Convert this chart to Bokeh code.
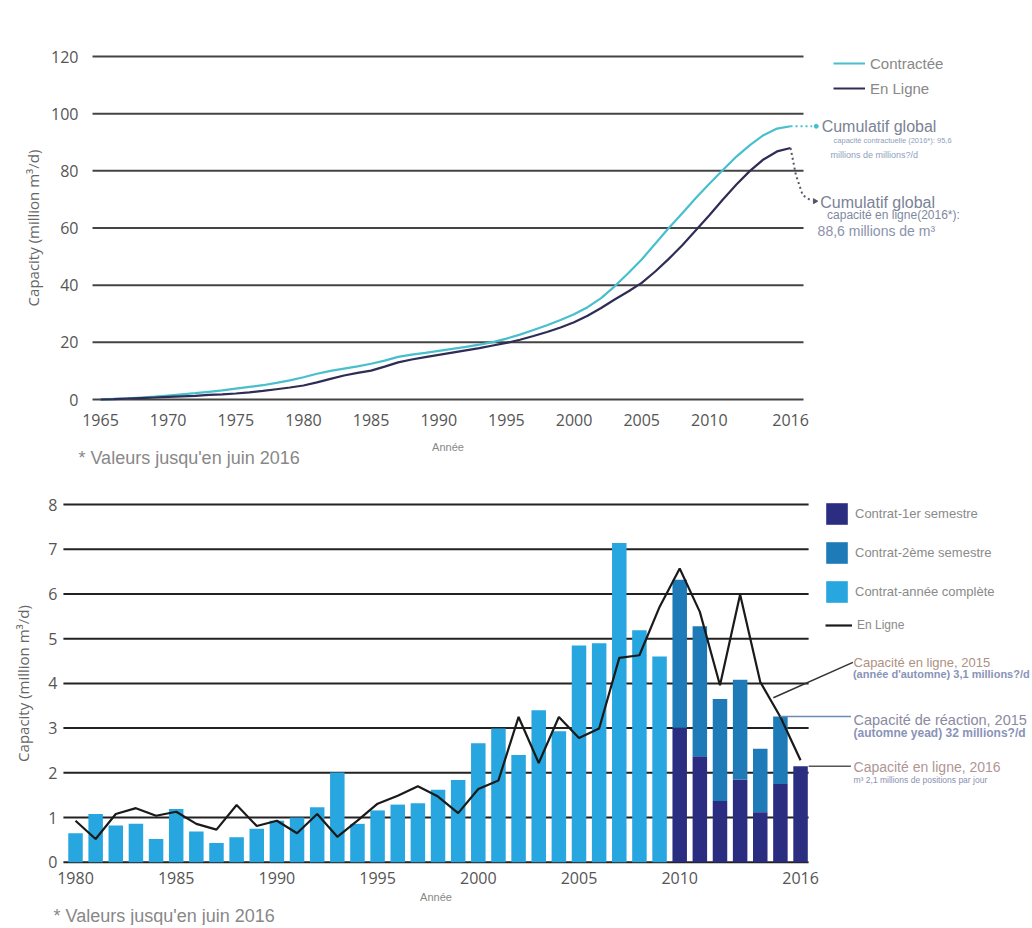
from bokeh.plotting import figure
from bokeh.models import Range1d, FixedTicker, Label, Legend, LegendItem, ColumnDataSource
from bokeh.layouts import column
from bokeh.embed import file_html
from bokeh.resources import INLINE

# ---------------- data: cumulative capacity (top) ----------------
years_top = list(range(1965, 2017))
contractee = [0.0, 0.2, 0.4, 0.7, 1.0, 1.4, 1.8, 2.2, 2.7, 3.2,
              3.8, 4.4, 5.0, 5.8, 6.7, 7.8, 9.0, 10.0, 10.8, 11.6,
              12.5, 13.6, 14.9, 15.7, 16.3, 17.0, 17.7, 18.4, 19.2, 20.1,
              21.3, 22.7, 24.3, 26.0, 27.8, 29.8, 32.3, 35.5, 39.6, 44.2,
              49.0, 54.5, 60.0, 65.2, 70.5, 75.5, 80.3, 85.0, 89.0, 92.5,
              94.8, 95.6]
en_ligne_cum = [0.0, 0.1, 0.3, 0.5, 0.7, 0.9, 1.1, 1.3, 1.6, 1.8,
                2.1, 2.5, 3.0, 3.6, 4.2, 4.9, 6.0, 7.2, 8.4, 9.3,
                10.1, 11.5, 13.0, 14.0, 14.8, 15.6, 16.4, 17.2, 18.0, 18.9,
                19.8, 20.9, 22.2, 23.6, 25.2, 27.0, 29.3, 32.0, 35.0, 37.8,
                40.8, 44.8, 49.2, 54.0, 59.2, 64.5, 70.0, 75.2, 80.0, 84.0,
                86.8, 88.0]
top_y_ticks = [0, 20, 40, 60, 80, 100, 120]
top_x_ticks = [1965, 1970, 1975, 1980, 1985, 1990, 1995, 2000, 2005, 2010, 2016]

# ---------------- data: annual capacity (bottom) ----------------
years_bot = list(range(1980, 2017))
annee_complete = [0.65, 1.08, 0.82, 0.86, 0.52, 1.19, 0.69, 0.43, 0.56, 0.75,
                  0.93, 1.00, 1.23, 2.01, 0.86, 1.16, 1.29, 1.32, 1.62, 1.84,
                  2.66, 2.99, 2.40, 3.40, 2.93, 4.85, 4.90, 7.14, 5.19, 4.60,
                  0, 0, 0, 0, 0, 0, 0]
sem1 = [0] * 30 + [3.01, 2.37, 1.37, 1.85, 1.12, 1.75, 2.15]
sem2 = [0] * 30 + [3.31, 2.91, 2.28, 2.23, 1.42, 1.51, 0.0]
en_ligne_ann = [0.93, 0.52, 1.08, 1.21, 1.04, 1.13, 0.86, 0.73, 1.28, 0.81,
                0.93, 0.65, 1.08, 0.57, 0.93, 1.31, 1.49, 1.70, 1.47, 1.10,
                1.64, 1.83, 3.25, 2.22, 3.25, 2.78, 2.99, 4.57, 4.63, 5.71,
                6.57, 5.60, 3.96, 5.99, 4.03, 3.25, 2.28]
bot_y_ticks = [0, 1, 2, 3, 4, 5, 6, 7, 8]
bot_x_ticks = [1980, 1985, 1990, 1995, 2000, 2005, 2010, 2016]

# ---------------- styles ----------------
NAVY = "#2b2e80"
MID = "#1e7bb8"
LIGHT = "#27a6df"
TEAL = "#48bfcc"
DARK = "#2f2c55"
TICK_FONT = "Open Sans"
NOTE_FONT = "Liberation Sans"


def style_axes(p):
    for ax in p.axis:
        ax.axis_line_color = None
        ax.major_tick_line_color = None
        ax.minor_tick_line_color = None
        ax.major_tick_out = 0
        ax.major_tick_in = 0
        ax.major_label_text_font = TICK_FONT
        ax.major_label_text_font_size = "16px"
        ax.major_label_text_color = "#555555"
        ax.axis_label_text_font = TICK_FONT
        ax.axis_label_text_font_style = "normal"
        ax.axis_label_text_font_size = "15px"
        ax.axis_label_text_color = "#666666"
    p.grid.visible = False
    p.outline_line_color = None
    p.background_fill_color = "white"
    p.border_fill_color = "white"


def add_text(p, x, y, txt, size, col, style="normal", align="left", font=NOTE_FONT):
    p.add_layout(Label(x=x, y=y, text=txt, text_font=font, text_font_size=size,
                       text_font_style=style, text_color=col,
                       text_baseline="middle", text_align=align))


# ================= TOP CHART =================
p1 = figure(width=1032, height=475,
            x_range=Range1d(1957.609, 2033.883), y_range=Range1d(-26.59, 139.61),
            output_backend="svg", toolbar_location=None,
            min_border=0, min_border_left=0, min_border_right=0,
            min_border_top=0, min_border_bottom=0)
style_axes(p1)
gx0, gx1 = 1964.41, 2016.96
p1.xaxis.ticker = FixedTicker(ticks=top_x_ticks)
p1.yaxis.ticker = FixedTicker(ticks=top_y_ticks)
p1.xaxis.fixed_location = -1.05
p1.yaxis.fixed_location = gx0
p1.xaxis.bounds = (gx0, gx1)
p1.yaxis.bounds = (top_y_ticks[0], top_y_ticks[-1])
p1.xaxis.major_label_standoff = 11
p1.yaxis.major_label_standoff = 14
p1.xaxis.axis_label = "Année"
p1.xaxis.axis_label_text_font = NOTE_FONT
p1.xaxis.axis_label_text_font_size = "11px"
p1.xaxis.axis_label_text_color = "#888888"
p1.xaxis.axis_label_standoff = 12
p1.yaxis.axis_label = "Capacity (million m³/d)"
p1.yaxis.axis_label_standoff = 5

p1.segment(x0=[gx0] * len(top_y_ticks), x1=[gx1] * len(top_y_ticks),
           y0=top_y_ticks, y1=top_y_ticks, line_color="#444444", line_width=2)

r_c = p1.line(years_top, contractee, line_color=TEAL, line_width=2.2)
r_e = p1.line(years_top, en_ligne_cum, line_color=DARK, line_width=2.2)

# dotted connectors to the annotations
p1.line([years_top[-1], 2017.6], [contractee[-1], contractee[-1]],
        line_color=TEAL, line_width=2, line_dash="2 3")
p1.scatter([2017.9], [contractee[-1]], marker="circle", size=4, color=TEAL)
p1.line([years_top[-1], 2016.4, 2016.9, 2017.6], [en_ligne_cum[-1], 78.5, 71.5, 69.4],
        line_color="#555566", line_width=2, line_dash="2 3")
p1.scatter([2017.8], [69.4], marker="triangle", angle=-1.5708, size=5, color="#555566")

leg1 = Legend(items=[LegendItem(label="Contractée", renderers=[r_c]),
                     LegendItem(label="En Ligne", renderers=[r_e])],
              location=(833, 377), orientation="vertical",
              glyph_width=32, glyph_height=20, label_height=20, spacing=5,
              padding=0, margin=0, border_line_color=None,
              background_fill_alpha=0,
              label_text_font=NOTE_FONT, label_text_font_size="15px",
              label_text_color="#888888")
p1.add_layout(leg1)

add_text(p1, 2018.3, 95.5, "Cumulatif global", "16px", "#7a8294")
add_text(p1, 2019.18, 90.6, "capacité contractuelle (2016*): 95,6", "7.5px", "#8fa0bc")
add_text(p1, 2018.95, 85.7, "millions de millions?/d", "9px", "#8fa0bc")
add_text(p1, 2018.2, 68.9, "Cumulatif global", "16px", "#7a8294")
add_text(p1, 2018.7, 64.4, "capacité en ligne(2016*):", "12px", "#8088a0")
add_text(p1, 2018.0, 58.8, "88,6 millions de m³", "14px", "#8a92aa")
add_text(p1, 1963.37, -20.6, "* Valeurs jusqu'en juin 2016", "18px", "#888888")

# ================= BOTTOM CHART =================
p2 = figure(width=1032, height=450,
            x_range=Range1d(1976.276, 2027.517), y_range=Range1d(-1.4136, 8.649),
            output_backend="svg", toolbar_location=None,
            min_border=0, min_border_left=0, min_border_right=0,
            min_border_top=0, min_border_bottom=0)
style_axes(p2)
bx0, bx1 = 1979.40, 2016.40
p2.xaxis.ticker = FixedTicker(ticks=bot_x_ticks)
p2.yaxis.ticker = FixedTicker(ticks=bot_y_ticks)
p2.xaxis.fixed_location = -0.05
p2.yaxis.fixed_location = bx0
p2.xaxis.bounds = (bx0, bx1)
p2.yaxis.bounds = (bot_y_ticks[0], bot_y_ticks[-1])
p2.xaxis.major_label_standoff = 7
p2.yaxis.major_label_standoff = 6
p2.xaxis.axis_label = "Année"
p2.xaxis.axis_label_text_font = NOTE_FONT
p2.xaxis.axis_label_text_font_size = "11px"
p2.xaxis.axis_label_text_color = "#888888"
p2.xaxis.axis_label_standoff = 4
p2.yaxis.axis_label = "Capacity (million m³/d)"
p2.yaxis.axis_label_standoff = 12

p2.segment(x0=[bx0] * len(bot_y_ticks), x1=[bx1] * len(bot_y_ticks),
           y0=bot_y_ticks, y1=bot_y_ticks, line_color="#222222", line_width=2)

src = ColumnDataSource(dict(year=years_bot, sem1=sem1, sem2=sem2, annee=annee_complete))
rs = p2.vbar_stack(["sem1", "sem2", "annee"], x="year", width=0.72,
                   fill_color=[NAVY, MID, LIGHT], line_color=None, source=src)
r_l = p2.line(years_bot, en_ligne_ann, line_color="#1a1a1a", line_width=2.2)

leg2 = Legend(items=[LegendItem(label="Contrat-1er semestre", renderers=[rs[0]]),
                     LegendItem(label="Contrat-2ème semestre", renderers=[rs[1]]),
                     LegendItem(label="Contrat-année complète", renderers=[rs[2]])],
              location=(823, 320), orientation="vertical",
              glyph_width=27, glyph_height=27, label_height=27, spacing=12,
              padding=0, margin=0, border_line_color=None, background_fill_alpha=0,
              label_text_font=NOTE_FONT, label_text_font_size="13px",
              label_text_color="#8a8a8a")
p2.add_layout(leg2)
leg3 = Legend(items=[LegendItem(label="En Ligne", renderers=[r_l])],
              location=(825, 290), glyph_width=27, glyph_height=20, label_height=20,
              padding=0, margin=0, border_line_color=None, background_fill_alpha=0,
              label_text_font=NOTE_FONT, label_text_font_size="12px",
              label_text_color="#8a8a8a")
p2.add_layout(leg3)

# leader lines
p2.line([2014.65, 2018.6], [3.68, 4.47], line_color="#333333", line_width=1.5)
p2.line([2015.0, 2018.5], [sem1[-2] + sem2[-2], sem1[-2] + sem2[-2]],
        line_color="#6a8cb0", line_width=1.5)
p2.line([2016.4, 2018.5], [sem1[-1], sem1[-1]], line_color="#555555", line_width=1.5)

add_text(p2, 2018.63, 4.47, "Capacité en ligne, 2015", "13px", "#b0907f")
add_text(p2, 2018.6, 4.22, "(année d'automne) 3,1 millions?/d", "11px", "#8a93b8", "bold")
add_text(p2, 2018.63, 3.19, "Capacité de réaction, 2015", "14.5px", "#8a8aa0")
add_text(p2, 2018.63, 2.90, "(automne yead) 32 millions?/d", "12px", "#8a93b8", "bold")
add_text(p2, 2018.63, 2.14, "Capacité en ligne, 2016", "14px", "#b09595")
add_text(p2, 2018.63, 1.85, "m³ 2,1 millions de positions par jour", "8.5px", "#8a90b0")
add_text(p2, 1978.91, -1.19, "* Valeurs jusqu'en juin 2016", "18px", "#888888")

layout = column(p1, p2)
open("out.html", "w").write(file_html(layout, INLINE))
